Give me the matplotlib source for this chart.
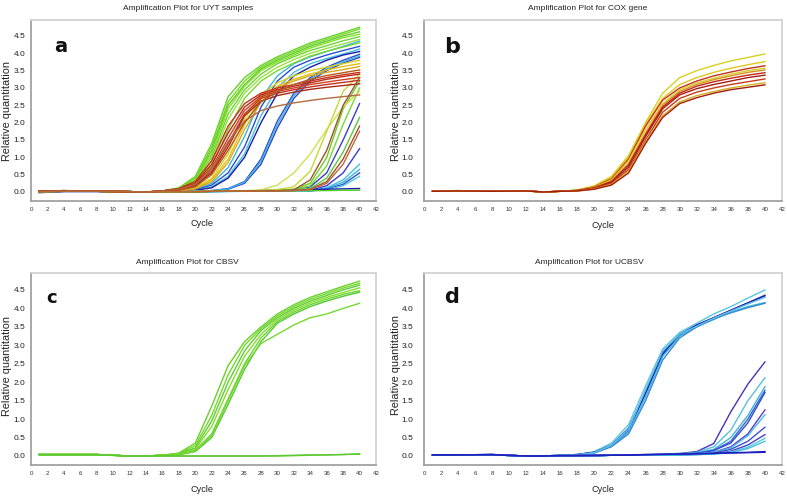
import matplotlib
matplotlib.use("Agg")
import matplotlib.pyplot as plt
from matplotlib import font_manager

avail = {f.name for f in font_manager.fontManager.ttflist}
NARROW = "Liberation Sans Narrow" if "Liberation Sans Narrow" in avail else (
    "Liberation Sans" if "Liberation Sans" in avail else "DejaVu Sans")
REG = "Liberation Sans" if "Liberation Sans" in avail else "DejaVu Sans"
HAS_NARROW = NARROW == "Liberation Sans Narrow"

# ---------------- data ----------------
CYCLES = [1, 4, 8, 12, 14, 16, 18, 20, 22, 24, 26, 28, 30, 32, 34, 36, 38, 40]
X_TICKS = list(range(0, 43, 2))
Y_TICKS = [0.0, 0.5, 1.0, 1.5, 2.0, 2.5, 3.0, 3.5, 4.0, 4.5]

TITLES = ["Amplification Plot for UYT samples", "Amplification Plot for COX gene",
          "Amplification Plot for CBSV", "Amplification Plot for UCBSV"]
LETTERS = ["a", "b", "c", "d"]

# Panel a (UYT samples)
A_CURVES = [
    # blue / cyan mid group
    [0.02, 0.03, 0.02, 0.01, 0.0, 0.02, 0.04, 0.08, 0.25, 0.70, 1.60, 2.70, 3.35, 3.70, 3.90, 4.05, 4.20, 4.35],
    [0.02, 0.03, 0.02, 0.01, 0.0, 0.02, 0.03, 0.06, 0.20, 0.55, 1.30, 2.45, 3.20, 3.60, 3.80, 3.95, 4.08, 4.20],
    [0.02, 0.03, 0.02, 0.01, 0.0, 0.02, 0.03, 0.05, 0.15, 0.45, 1.10, 2.20, 3.00, 3.45, 3.70, 3.85, 3.98, 4.12],
    [-0.02, 0.02, 0.02, 0.01, 0.0, 0.01, 0.02, 0.05, 0.12, 0.40, 1.00, 2.00, 2.85, 3.35, 3.60, 3.80, 3.95, 4.05],
    [0.01, 0.02, 0.02, 0.01, 0.0, 0.01, 0.01, 0.02, 0.04, 0.10, 0.30, 0.95, 2.05, 2.85, 3.30, 3.60, 3.80, 3.97],
    [0.01, 0.02, 0.02, 0.01, 0.0, 0.01, 0.01, 0.02, 0.03, 0.08, 0.25, 0.80, 1.85, 2.70, 3.20, 3.50, 3.72, 3.88],
    [0.01, 0.02, 0.02, 0.01, 0.0, 0.01, 0.01, 0.02, 0.04, 0.09, 0.28, 0.88, 1.95, 2.78, 3.25, 3.55, 3.76, 3.92],
    # late blue / cyan
    [0.01, 0.02, 0.02, 0.01, 0.0, 0.01, 0.01, 0.01, 0.02, 0.02, 0.03, 0.04, 0.05, 0.07, 0.15, 0.55, 1.50, 2.55],
    [0.01, 0.02, 0.02, 0.01, 0.0, 0.01, 0.01, 0.01, 0.02, 0.02, 0.02, 0.03, 0.03, 0.04, 0.05, 0.18, 0.55, 1.25],
    [0.01, 0.02, 0.02, 0.01, 0.0, 0.01, 0.01, 0.01, 0.01, 0.02, 0.02, 0.02, 0.03, 0.03, 0.04, 0.12, 0.35, 0.80],
    [0.01, 0.02, 0.02, 0.01, 0.0, 0.01, 0.01, 0.01, 0.01, 0.02, 0.02, 0.02, 0.02, 0.03, 0.03, 0.10, 0.28, 0.65],
    [0.01, 0.02, 0.02, 0.01, 0.0, 0.01, 0.01, 0.01, 0.01, 0.02, 0.02, 0.02, 0.02, 0.03, 0.03, 0.08, 0.22, 0.55],
    [0.01, 0.02, 0.02, 0.01, 0.0, 0.01, 0.01, 0.01, 0.01, 0.01, 0.02, 0.02, 0.02, 0.02, 0.03, 0.07, 0.18, 0.45],
    [0.00, 0.01, 0.01, 0.01, 0.0, 0.01, 0.01, 0.01, 0.02, 0.02, 0.03, 0.04, 0.05, 0.06, 0.07, 0.08, 0.09, 0.10],
    # green early group
    [0.02, 0.04, 0.02, 0.01, 0.0, 0.03, 0.12, 0.45, 1.40, 2.75, 3.30, 3.65, 3.90, 4.10, 4.30, 4.45, 4.60, 4.75],
    [0.02, 0.04, 0.02, 0.01, 0.0, 0.03, 0.11, 0.40, 1.30, 2.60, 3.20, 3.60, 3.85, 4.05, 4.25, 4.40, 4.55, 4.70],
    [0.02, 0.04, 0.02, 0.01, 0.0, 0.03, 0.10, 0.35, 1.20, 2.50, 3.10, 3.55, 3.80, 4.00, 4.20, 4.35, 4.50, 4.62],
    [0.02, 0.04, 0.02, 0.01, 0.0, 0.03, 0.09, 0.33, 1.10, 2.40, 3.05, 3.50, 3.75, 3.95, 4.15, 4.30, 4.45, 4.55],
    [0.02, 0.04, 0.02, 0.01, 0.0, 0.02, 0.08, 0.30, 1.00, 2.25, 2.95, 3.40, 3.70, 3.90, 4.08, 4.22, 4.36, 4.48],
    [0.02, 0.04, 0.02, 0.01, 0.0, 0.02, 0.07, 0.25, 0.90, 2.10, 2.85, 3.30, 3.60, 3.82, 4.00, 4.14, 4.27, 4.40],
    [0.02, 0.04, 0.02, 0.01, 0.0, 0.02, 0.06, 0.20, 0.75, 1.80, 2.70, 3.20, 3.50, 3.72, 3.92, 4.06, 4.18, 4.30],
    # late green
    [0.01, 0.02, 0.02, 0.01, 0.0, 0.01, 0.01, 0.01, 0.02, 0.02, 0.03, 0.04, 0.05, 0.08, 0.25, 1.00, 2.40, 3.20],
    [0.01, 0.02, 0.02, 0.01, 0.0, 0.01, 0.01, 0.01, 0.02, 0.02, 0.03, 0.04, 0.05, 0.06, 0.18, 0.75, 1.95, 3.00],
    [0.01, 0.02, 0.02, 0.01, 0.0, 0.01, 0.01, 0.01, 0.02, 0.02, 0.02, 0.03, 0.04, 0.05, 0.10, 0.40, 1.15, 2.15],
    [0.01, 0.03, 0.02, 0.01, 0.0, 0.01, 0.01, 0.01, 0.02, 0.02, 0.02, 0.03, 0.03, 0.04, 0.04, 0.04, 0.05, 0.05],
    # yellow / orange
    [0.02, 0.03, 0.02, 0.01, 0.0, 0.02, 0.05, 0.12, 0.40, 1.10, 2.10, 2.80, 3.15, 3.35, 3.50, 3.60, 3.70, 3.80],
    [0.02, 0.03, 0.02, 0.01, 0.0, 0.02, 0.04, 0.10, 0.35, 0.95, 1.95, 2.70, 3.05, 3.25, 3.40, 3.52, 3.62, 3.70],
    [0.02, 0.03, 0.02, 0.01, 0.0, 0.02, 0.04, 0.09, 0.30, 0.85, 1.80, 2.60, 3.00, 3.20, 3.35, 3.45, 3.53, 3.62],
    [0.01, 0.02, 0.02, 0.01, 0.0, 0.01, 0.01, 0.02, 0.02, 0.03, 0.04, 0.06, 0.20, 0.55, 1.10, 1.80, 2.45, 2.90],
    [0.01, 0.02, 0.02, 0.01, 0.0, 0.01, 0.01, 0.01, 0.02, 0.02, 0.03, 0.04, 0.07, 0.15, 0.60, 1.75, 2.90, 3.40],
    # red / brown
    [0.02, 0.03, 0.02, 0.01, 0.0, 0.03, 0.10, 0.30, 0.90, 1.90, 2.55, 2.85, 3.00, 3.10, 3.20, 3.30, 3.38, 3.45],
    [0.02, 0.03, 0.02, 0.01, 0.0, 0.03, 0.09, 0.25, 0.80, 1.70, 2.45, 2.80, 2.95, 3.05, 3.15, 3.25, 3.33, 3.40],
    [0.02, 0.03, 0.02, 0.01, 0.0, 0.03, 0.08, 0.22, 0.70, 1.55, 2.35, 2.75, 2.90, 3.00, 3.10, 3.17, 3.24, 3.30],
    [0.02, 0.03, 0.02, 0.01, 0.0, 0.03, 0.07, 0.20, 0.60, 1.40, 2.25, 2.70, 2.85, 2.95, 3.03, 3.10, 3.16, 3.22],
    [0.02, 0.03, 0.02, 0.01, 0.0, 0.02, 0.06, 0.18, 0.55, 1.30, 2.20, 2.62, 2.78, 2.88, 2.96, 3.02, 3.07, 3.12],
    [0.02, 0.03, 0.02, 0.01, 0.0, 0.03, 0.08, 0.22, 0.65, 1.45, 2.05, 2.35, 2.48, 2.57, 2.64, 2.70, 2.75, 2.80],
    [0.02, 0.03, 0.02, 0.01, 0.0, 0.02, 0.05, 0.15, 0.50, 1.20, 2.00, 2.60, 2.90, 3.10, 3.25, 3.36, 3.44, 3.52],
    [0.01, 0.02, 0.02, 0.01, 0.0, 0.01, 0.01, 0.01, 0.02, 0.02, 0.03, 0.04, 0.04, 0.06, 0.35, 1.20, 2.50, 3.30],
    [0.01, 0.02, 0.02, 0.01, 0.0, 0.01, 0.01, 0.01, 0.02, 0.02, 0.02, 0.03, 0.03, 0.04, 0.08, 0.30, 0.95, 1.90],
    [0.01, 0.02, 0.02, 0.01, 0.0, 0.01, 0.01, 0.01, 0.02, 0.02, 0.02, 0.03, 0.03, 0.04, 0.07, 0.25, 0.80, 1.75],
]
A_COLORS = [
    "#3cb4dc", "#2a50d0", "#45bfe0", "#1c1ca8", "#2a50d0", "#3340c8", "#3cb4dc",
    "#3a3ad0", "#3a3ad0", "#45bfe0", "#3cb4dc", "#2a50d0", "#55c8e0", "#1818b0",
    "#66d22a", "#7ad628", "#5ccc30", "#88dd22", "#6ad43a", "#9ae040", "#77d830",
    "#66cc22", "#77d830", "#5cc83a", "#55cc22",
    "#d8d020", "#e0c010", "#d8a820", "#d0e050", "#c8d830",
    "#c8301a", "#b82818", "#d0401c", "#c03020", "#a82a14", "#b06a40", "#b8581a",
    "#a0522d", "#a0522d", "#b86a3a",
]

# Panel b (COX gene)
B_CURVES = [
    [0.03, 0.04, 0.02, 0.03, 0.0, 0.02, 0.06, 0.18, 0.45, 1.05, 2.00, 2.85, 3.30, 3.50, 3.65, 3.78, 3.88, 3.98],
    [0.03, 0.04, 0.02, 0.03, 0.0, 0.02, 0.05, 0.16, 0.42, 1.00, 1.95, 2.70, 3.10, 3.30, 3.45, 3.57, 3.67, 3.76],
    [0.02, 0.03, 0.02, 0.03, 0.0, 0.02, 0.05, 0.15, 0.38, 0.95, 1.90, 2.65, 3.00, 3.20, 3.35, 3.46, 3.56, 3.64],
    [0.03, 0.04, 0.02, 0.03, 0.0, 0.02, 0.05, 0.14, 0.35, 0.90, 1.80, 2.55, 2.95, 3.15, 3.28, 3.40, 3.50, 3.57],
    [0.02, 0.03, 0.02, 0.03, 0.0, 0.02, 0.05, 0.13, 0.32, 0.82, 1.70, 2.50, 2.90, 3.10, 3.24, 3.35, 3.45, 3.52],
    [0.02, 0.03, 0.02, 0.03, 0.0, 0.02, 0.04, 0.12, 0.30, 0.78, 1.65, 2.45, 2.85, 3.05, 3.18, 3.28, 3.37, 3.44],
    [0.02, 0.03, 0.02, 0.03, 0.0, 0.02, 0.04, 0.11, 0.28, 0.72, 1.60, 2.40, 2.80, 2.98, 3.10, 3.20, 3.30, 3.37],
    [0.02, 0.03, 0.02, 0.03, 0.0, 0.02, 0.04, 0.10, 0.25, 0.65, 1.50, 2.30, 2.70, 2.88, 3.00, 3.10, 3.18, 3.26],
    [0.02, 0.03, 0.02, 0.03, 0.0, 0.02, 0.03, 0.09, 0.22, 0.60, 1.45, 2.20, 2.60, 2.78, 2.90, 3.00, 3.08, 3.15],
    [0.02, 0.03, 0.02, 0.03, 0.0, 0.02, 0.03, 0.08, 0.20, 0.55, 1.40, 2.15, 2.55, 2.72, 2.85, 2.95, 3.02, 3.09],
]
B_COLORS = ["#d8d020", "#e0c818", "#c83020", "#d8d030", "#d89020",
            "#c02818", "#a81e14", "#c83a1c", "#d8b020", "#a01c10"]

# Panel c (CBSV)
C_CURVES = [
    [0.04, 0.04, 0.04, 0.0, 0.0, 0.02, 0.08, 0.35, 1.35, 2.45, 3.10, 3.50, 3.85, 4.10, 4.30, 4.45, 4.60, 4.74],
    [0.04, 0.04, 0.04, 0.0, 0.0, 0.02, 0.07, 0.28, 1.10, 2.20, 3.00, 3.45, 3.80, 4.05, 4.25, 4.40, 4.55, 4.68],
    [0.04, 0.04, 0.04, 0.0, 0.0, 0.02, 0.06, 0.22, 0.95, 2.00, 2.85, 3.40, 3.75, 4.00, 4.20, 4.35, 4.50, 4.63],
    [0.04, 0.04, 0.04, 0.0, 0.0, 0.02, 0.05, 0.18, 0.80, 1.80, 2.70, 3.30, 3.70, 3.95, 4.15, 4.30, 4.43, 4.56],
    [0.04, 0.04, 0.04, 0.0, 0.0, 0.02, 0.04, 0.15, 0.60, 1.55, 2.50, 3.20, 3.65, 3.90, 4.10, 4.25, 4.38, 4.48],
    [0.04, 0.04, 0.04, 0.0, 0.0, 0.02, 0.03, 0.12, 0.50, 1.40, 2.35, 3.10, 3.60, 3.85, 4.05, 4.20, 4.33, 4.44],
    [0.04, 0.04, 0.04, 0.0, 0.0, 0.02, 0.04, 0.14, 0.55, 1.50, 2.45, 3.05, 3.30, 3.55, 3.75, 3.85, 4.00, 4.14],
    [0.04, 0.04, 0.04, 0.0, 0.0, 0.0, 0.0, 0.0, 0.0, 0.0, 0.0, 0.0, 0.0, 0.01, 0.02, 0.03, 0.04, 0.05],
    [0.03, 0.03, 0.03, 0.0, 0.0, 0.0, 0.0, 0.0, 0.0, 0.0, 0.0, 0.0, 0.01, 0.02, 0.03, 0.03, 0.04, 0.06],
]
C_COLORS = ["#66d22a", "#7ad628", "#5ccc40", "#88dd22", "#6ad43a", "#55c830",
            "#77d830", "#66cc22", "#5cc83a"]

# Panel d (UCBSV)
D_CURVES = [
    [0.03, 0.03, 0.03, 0.0, 0.0, 0.02, 0.04, 0.12, 0.35, 0.85, 1.90, 2.90, 3.35, 3.60, 3.85, 4.05, 4.28, 4.50],
    [0.03, 0.03, 0.04, 0.0, 0.0, 0.02, 0.04, 0.10, 0.30, 0.75, 1.75, 2.80, 3.30, 3.55, 3.75, 3.95, 4.15, 4.36],
    [0.03, 0.03, 0.04, 0.0, 0.0, 0.02, 0.04, 0.10, 0.28, 0.70, 1.70, 2.75, 3.28, 3.55, 3.75, 3.95, 4.15, 4.34],
    [0.03, 0.03, 0.03, 0.0, 0.0, 0.02, 0.03, 0.09, 0.27, 0.65, 1.60, 2.70, 3.25, 3.50, 3.70, 3.90, 4.05, 4.16],
    [0.03, 0.03, 0.03, 0.0, 0.0, 0.02, 0.03, 0.08, 0.25, 0.60, 1.50, 2.60, 3.20, 3.50, 3.72, 3.88, 4.02, 4.14],
    [0.03, 0.03, 0.03, 0.0, 0.0, 0.02, 0.03, 0.09, 0.30, 0.72, 1.80, 2.85, 3.30, 3.52, 3.74, 3.93, 4.12, 4.30],
    [0.03, 0.03, 0.04, 0.0, 0.0, 0.01, 0.02, 0.02, 0.02, 0.03, 0.04, 0.05, 0.07, 0.12, 0.34, 1.20, 1.95, 2.55],
    [0.03, 0.03, 0.03, 0.0, 0.0, 0.01, 0.01, 0.01, 0.02, 0.02, 0.03, 0.04, 0.06, 0.10, 0.25, 0.70, 1.50, 2.12],
    [0.03, 0.03, 0.03, 0.0, 0.0, 0.01, 0.01, 0.01, 0.02, 0.02, 0.03, 0.03, 0.05, 0.08, 0.18, 0.50, 1.10, 1.88],
    [0.03, 0.03, 0.03, 0.0, 0.0, 0.01, 0.01, 0.01, 0.02, 0.02, 0.03, 0.03, 0.05, 0.08, 0.15, 0.40, 1.00, 1.78],
    [0.03, 0.03, 0.03, 0.0, 0.0, 0.01, 0.01, 0.01, 0.02, 0.02, 0.02, 0.03, 0.04, 0.07, 0.15, 0.35, 0.90, 1.72],
    [0.03, 0.03, 0.03, 0.0, 0.0, 0.01, 0.01, 0.01, 0.02, 0.02, 0.02, 0.03, 0.04, 0.06, 0.10, 0.25, 0.60, 1.25],
    [0.03, 0.03, 0.03, 0.0, 0.0, 0.01, 0.01, 0.01, 0.02, 0.02, 0.02, 0.03, 0.04, 0.06, 0.10, 0.22, 0.55, 1.12],
    [0.03, 0.03, 0.03, 0.0, 0.0, 0.01, 0.01, 0.01, 0.02, 0.02, 0.02, 0.03, 0.03, 0.05, 0.08, 0.18, 0.40, 0.78],
    [0.03, 0.03, 0.03, 0.0, 0.0, 0.01, 0.01, 0.01, 0.02, 0.02, 0.02, 0.03, 0.03, 0.04, 0.06, 0.13, 0.30, 0.58],
    [0.03, 0.03, 0.03, 0.0, 0.0, 0.01, 0.01, 0.01, 0.02, 0.02, 0.02, 0.02, 0.03, 0.04, 0.05, 0.11, 0.24, 0.48],
    [0.03, 0.03, 0.03, 0.0, 0.0, 0.01, 0.01, 0.01, 0.02, 0.02, 0.02, 0.02, 0.03, 0.04, 0.05, 0.10, 0.20, 0.40],
    [0.03, 0.03, 0.04, 0.0, 0.0, 0.01, 0.01, 0.02, 0.02, 0.03, 0.04, 0.05, 0.05, 0.06, 0.07, 0.09, 0.10, 0.12],
    [0.03, 0.03, 0.03, 0.0, 0.0, 0.01, 0.01, 0.01, 0.02, 0.02, 0.03, 0.04, 0.05, 0.06, 0.07, 0.08, 0.09, 0.10],
]
D_COLORS = ["#55c8e0", "#2a50d0", "#1c1ca8", "#3cb4dc", "#3a8ad0", "#60c0e8",
            "#4a30c0", "#55c0e0", "#3cb4dc", "#3a60d0", "#2a50d0", "#5a3ad0",
            "#45bfe0", "#3a50d0", "#4a40c8", "#55c8e0", "#45bfe0", "#1818b0", "#2020c0"]

# ---------------- layout (pixels of the 787x504 figure) ----------------
W, H = 787, 504
fig = plt.figure(figsize=(W / 100, H / 100), dpi=100)

if HAS_NARROW:
    TITLE_PT, YTICK_PT, XTICK_PT, CYCLE_PT = 6.8, 6.8, 5.2, 7.4
else:
    TITLE_PT, YTICK_PT, XTICK_PT, CYCLE_PT = 6.0, 6.0, 4.4, 6.6
YLAB_PT = 7.8


def fx(px):
    return px / W


def fy(py):
    return 1 - py / H


panels = [
    dict(box=(31, 20, 376, 201), ylim=(-0.26, 4.96), curves=A_CURVES, colors=A_COLORS,
         ypad=4.0, title=(188, 9), letter=(54, 47), cycle=(202, 224), ylab=(7, 111), lsize=14),
    dict(box=(424, 20, 782, 201), ylim=(-0.26, 4.96), curves=B_CURVES, colors=B_COLORS,
         ypad=7.5, title=(588, 9), letter=(444, 47), cycle=(603, 225), ylab=(396, 111), lsize=16),
    dict(box=(31, 273, 376, 465), ylim=(-0.244, 4.96), curves=C_CURVES, colors=C_COLORS,
         ypad=4.0, title=(187, 262), letter=(46, 298), cycle=(202, 490), ylab=(7, 366), lsize=13),
    dict(box=(424, 273, 782, 465), ylim=(-0.244, 4.96), curves=D_CURVES, colors=D_COLORS,
         ypad=7.5, title=(589, 262), letter=(444, 297), cycle=(603, 490), ylab=(396, 365), lsize=15),
]

for i, p in enumerate(panels):
    l, t, r, b = p["box"]
    ax = fig.add_axes([fx(l), fy(b), (r - l) / W, (b - t) / H])
    for vals, col in zip(p["curves"], p["colors"]):
        ax.plot(CYCLES, vals, color=col, lw=1.0, solid_joinstyle="round")
    ax.set_xlim(0, 42)
    ax.set_ylim(*p["ylim"])
    ax.set_xticks(X_TICKS)
    ax.set_xticklabels([str(v) for v in X_TICKS], fontsize=XTICK_PT, family=NARROW, color="#333333")
    ax.set_yticks(Y_TICKS)
    ax.set_yticklabels([f"{v:.1f}" for v in Y_TICKS], fontsize=YTICK_PT, family=NARROW, color="#222222")
    ax.tick_params(axis="x", length=0, pad=4.0)
    ax.tick_params(axis="y", length=0, pad=p["ypad"])
    for side in ("left", "bottom"):
        ax.spines[side].set_color("#9a9a9a")
        ax.spines[side].set_linewidth(1.2)
    for side in ("top", "right"):
        ax.spines[side].set_color("#d0d0d0")
        ax.spines[side].set_linewidth(1.2)
    fig.text(fx(p["title"][0]), fy(p["title"][1]), TITLES[i], ha="center", va="center",
             fontsize=TITLE_PT, family=NARROW, color="#222222")
    fig.text(fx(p["cycle"][0]), fy(p["cycle"][1]), "Cycle", ha="center", va="center",
             fontsize=CYCLE_PT, family=NARROW, color="#222222")
    fig.text(fx(p["ylab"][0]), fy(p["ylab"][1]), "Relative quantitation", ha="center", va="center",
             rotation=90, fontsize=YLAB_PT, family=REG, color="#222222")
    fig.text(fx(p["letter"][0]), fy(p["letter"][1]), LETTERS[i], ha="left", va="center",
             fontsize=p["lsize"], fontweight="bold", family="DejaVu Sans", color="#111111")

fig.savefig("out.png", dpi=100, facecolor="white")
